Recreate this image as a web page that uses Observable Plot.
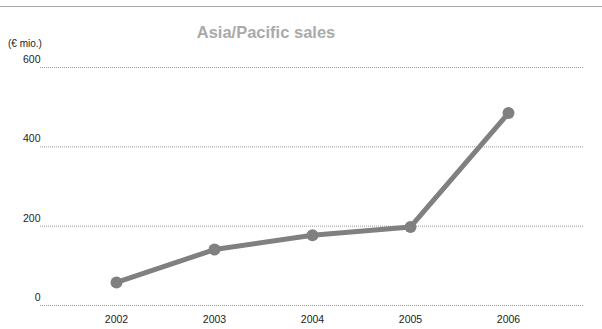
<!DOCTYPE html>
<html><head><meta charset="utf-8">
<script src="https://cdn.jsdelivr.net/npm/d3@7"></script>
<script src="https://cdn.jsdelivr.net/npm/@observablehq/plot@0.6"></script>
<style>
body{margin:0;background:#fff;font-family:"Liberation Sans",Arial,sans-serif;}
#wrap{position:relative;width:602px;height:329px;}
#rule{position:absolute;left:0;top:6px;width:602px;height:1px;background:#aaa;}
#title{position:absolute;left:0;width:532px;top:23px;text-align:center;font-weight:bold;font-size:16.5px;color:#aaa;}
#unit{position:absolute;left:8px;top:38px;font-size:10px;color:#222;}
</style></head><body>
<div id="wrap"><div id="rule"></div><div id="title">Asia/Pacific sales</div><div id="unit">(€ mio.)</div><div id="chart"></div></div>
<script>
const years = ["2002","2003","2004","2005","2006"];
const sales = [58, 141, 177, 198, 485];
const yTicks = [0, 200, 400, 600];
const data = years.map((y,i)=>({year:y, value:sales[i]}));
const chart = Plot.plot({
  width:602, height:329,
  marginLeft:40, marginRight:19, marginTop:67, marginBottom:24,
  style:{fontFamily:"Liberation Sans, Arial, sans-serif", fontSize:"10.5px", color:"#222", background:"transparent"},
  x:{type:"point", domain:years, padding:0.76},
  y:{domain:[0,600]},
  marks:[
    Plot.gridY(yTicks,{stroke:"#9a9a9a", strokeOpacity:1, strokeDasharray:"1,1"}),
    Plot.axisY({ticks:yTicks, tickSize:0, dx:9, dy:-8, label:null}),
    Plot.axisX({tickSize:0, tickPadding:10, label:null}),
    Plot.line(data,{x:"year", y:"value", stroke:"#808080", strokeWidth:5}),
    Plot.dot(data,{x:"year", y:"value", r:6, fill:"#808080"})
  ]
});
document.getElementById("chart").appendChild(chart);
</script></body></html>
